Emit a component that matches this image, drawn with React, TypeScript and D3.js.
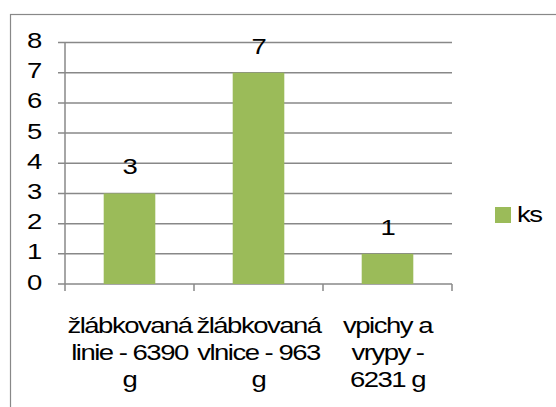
import React from "react";
import * as d3 from "d3";

const categories = [
  ["žlábkovaná", "linie - 6390", "g"],
  ["žlábkovaná", "vlnice - 963", "g"],
  ["vpichy a", "vrypy -", "6231 g"],
];
const values = [3, 7, 1];
const yTicks = [0, 1, 2, 3, 4, 5, 6, 7, 8];
const seriesName = "ks";

const font = "Liberation Sans, Arial, sans-serif";

function T({ x, y, anchor = "middle", children }: { x: number; y: number; anchor?: string; children: React.ReactNode }) {
  return (
    <g transform={`translate(${x},${y}) scale(1.25,1)`}>
      <text x={0} y={0} textAnchor={anchor} fontFamily={font} fontSize={22} fill="#000" letterSpacing={-1.2}>
        {children}
      </text>
    </g>
  );
}

export default function App() {
  const W = 556, H = 407;
  const left = 65, right = 452, top = 42.5, bottom = 284;
  const x = d3.scaleBand<number>().domain(d3.range(values.length)).range([left, right]).paddingInner(0.6).paddingOuter(0.3);
  const xb = d3.scaleBand<number>().domain(d3.range(values.length)).range([left, right]);
  const y = d3.scaleLinear().domain([0, 8]).range([bottom, top]);
  const green = "#9BBB59";
  const grid = "#888";
  return (
    <svg width={W} height={H} style={{ position: "absolute", left: 0, top: 0 }}>
      <rect x={0} y={0} width={W} height={H} fill="#fff" />
      <rect x={10.5} y={14.5} width={W + 10} height={H + 10} fill="none" stroke="#888" strokeWidth={1.2} />
      {yTicks.map((t) => (
        <g key={t}>
          <line x1={left - 7} x2={right} y1={y(t)} y2={y(t)} stroke={grid} strokeWidth={1.5} />
          <T x={34} y={y(t) + 5.5}>{t}</T>
        </g>
      ))}
      <line x1={left} x2={left} y1={top} y2={bottom} stroke={grid} strokeWidth={1.5} />
      {d3.range(values.length + 1).map((i) => {
        const xx = i < values.length ? xb(i)! : right;
        return <line key={i} x1={xx} x2={xx} y1={bottom} y2={bottom + 7} stroke={grid} strokeWidth={1.5} />;
      })}
      {values.map((v, i) => (
        <g key={i}>
          <rect x={x(i)} y={y(v)} width={x.bandwidth()} height={bottom - y(v)} fill={green} />
          <T x={x(i)! + x.bandwidth() / 2} y={y(v) - 19}>{v}</T>
        </g>
      ))}
      {categories.map((lines, i) =>
        lines.map((l, j) => (
          <T key={i + "-" + j} x={xb(i)! + xb.bandwidth() / 2} y={333 + j * 27}>{l}</T>
        ))
      )}
      <rect x={495} y={207} width={16} height={16} fill={green} />
      <T x={517} y={222} anchor="start">{seriesName}</T>
    </svg>
  );
}
